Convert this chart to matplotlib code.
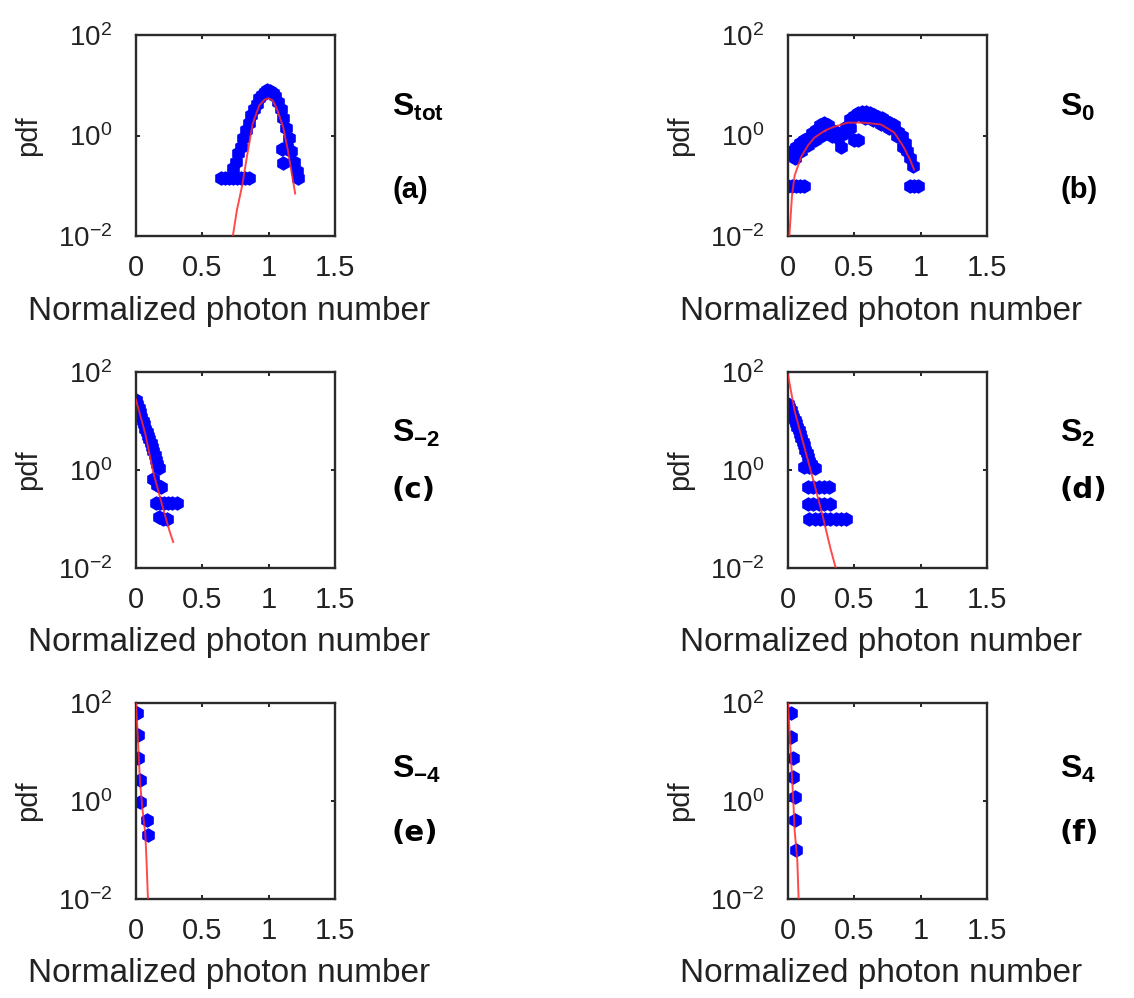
import matplotlib
matplotlib.use('Agg')
import matplotlib.pyplot as plt

plt.rcParams['font.family'] = ['Liberation Sans', 'DejaVu Sans']
plt.rcParams['mathtext.fontset'] = 'custom'
plt.rcParams['mathtext.rm'] = 'Liberation Sans'
plt.rcParams['mathtext.bf'] = 'Liberation Sans:bold'
plt.rcParams['axes.unicode_minus'] = False

## Data (pdf histograms in blue, fits in red)
# (a) S_tot
a_x = [0.64, 0.67, 0.70, 0.73, 0.76, 0.79, 0.82, 0.85,
       0.73, 0.75, 0.77, 0.79, 0.81, 0.83, 0.85, 0.87, 0.89, 0.91, 0.93, 0.95, 0.97, 0.99,
       1.01, 1.03, 1.05, 1.07, 1.09, 1.11, 1.13, 1.15, 1.17, 1.19, 1.21, 1.22,
       1.10, 1.11, 1.14]
a_y = [0.14, 0.14, 0.14, 0.14, 0.14, 0.14, 0.14, 0.14,
       0.23, 0.3, 0.45, 0.6, 0.9, 1.3, 1.8, 2.6, 3.4, 4.3, 5.5, 6.5, 7.3, 7.9,
       7.8, 7.0, 6.0, 4.6, 3.3, 2.2, 1.4, 0.9, 0.5, 0.3, 0.2, 0.14,
       0.55, 0.28, 0.6]
a_fit_x = [0.73, 0.76, 0.80, 0.84, 0.88, 0.93, 0.97, 1.00, 1.03, 1.06, 1.11, 1.145, 1.175, 1.20]
a_fit_y = [0.01, 0.032, 0.1, 0.44, 1.74, 4.0, 5.2, 5.5, 5.0, 3.5, 1.45, 0.5, 0.17, 0.07]

# (b) S_0
b_x = [0.00, 0.03, 0.06, 0.09, 0.12,
       0.01, 0.03, 0.06, 0.09, 0.12, 0.15, 0.18, 0.21, 0.24, 0.27, 0.30, 0.33, 0.36, 0.40,
       0.44, 0.47, 0.50, 0.53, 0.56, 0.59, 0.62, 0.65, 0.68, 0.71, 0.74, 0.77, 0.80,
       0.83, 0.86, 0.88, 0.90, 0.92, 0.94, 0.50, 0.53,
       0.92, 0.95, 0.98,
       0.05, 0.10, 0.15, 0.20, 0.25, 0.33, 0.38, 0.43, 0.47, 0.58, 0.64, 0.70, 0.76, 0.82, 0.87]
b_y = [0.1, 0.1, 0.1, 0.1, 0.1,
       0.45, 0.5, 0.6, 0.7, 0.8, 0.9, 1.1, 1.3, 1.6, 1.8, 1.6, 1.0, 1.2, 0.6,
       1.5, 2.1, 2.4, 2.8, 3.0, 3.0, 2.8, 2.6, 2.3, 2.2, 1.9, 1.8, 1.6,
       1.2, 1.0, 0.7, 0.5, 0.35, 0.25, 0.8, 0.8,
       0.1, 0.1, 0.1,
       0.35, 0.5, 0.65, 0.8, 1.0, 1.3, 0.9, 1.1, 1.4, 2.2, 2.0, 1.7, 1.4, 1.0, 0.6]
b_fit_x = [0.01, 0.02, 0.03, 0.05, 0.10, 0.15, 0.20, 0.28, 0.35, 0.45, 0.57, 0.70, 0.80, 0.87, 0.92, 0.95]
b_fit_y = [0.01, 0.025, 0.063, 0.16, 0.38, 0.63, 0.91, 1.26, 1.5, 1.8, 1.8, 1.66, 1.15, 0.6, 0.33, 0.21]

# (c) S_-2
c_x = [0.00, 0.01, 0.02, 0.03, 0.04, 0.05, 0.06, 0.07, 0.08, 0.09, 0.10, 0.11, 0.12, 0.13,
       0.14, 0.15, 0.16, 0.17, 0.13, 0.16, 0.19, 0.15, 0.18, 0.21, 0.24, 0.27, 0.31,
       0.17, 0.20, 0.23]
c_y = [27, 22, 18, 15, 12, 10, 8.5, 7, 6, 5, 4.2, 3.5, 2.9, 2.4,
       2.0, 1.6, 1.3, 1.1, 0.65, 0.5, 0.45, 0.21, 0.21, 0.21, 0.21, 0.21, 0.21,
       0.11, 0.1, 0.1]
c_fit_x = [0.00, 0.07, 0.13, 0.20, 0.25, 0.28]
c_fit_y = [27, 5.5, 0.9, 0.18, 0.06, 0.034]

# (d) S_2
d_x = [0.00, 0.01, 0.02, 0.03, 0.04, 0.05, 0.06, 0.07, 0.08, 0.09, 0.10, 0.11, 0.12, 0.13,
       0.14, 0.15, 0.16, 0.17, 0.12, 0.16, 0.20,
       0.15, 0.19, 0.23, 0.27, 0.31, 0.15, 0.19, 0.23, 0.27, 0.32,
       0.16, 0.20, 0.24, 0.28, 0.32, 0.36, 0.40, 0.44]
d_y = [22, 19, 17, 14, 12, 10.5, 9, 7.7, 6.5, 5.5, 4.6, 3.8, 3.2, 2.6,
       2.2, 1.8, 1.5, 1.3, 1.15, 1.15, 1.1,
       0.45, 0.45, 0.45, 0.45, 0.45, 0.2, 0.2, 0.2, 0.2, 0.2,
       0.1, 0.1, 0.1, 0.1, 0.1, 0.1, 0.1, 0.1]
d_fit_x = [0.00, 0.05, 0.10, 0.20, 0.26, 0.32, 0.36]
d_fit_y = [87, 16, 5, 0.5, 0.12, 0.025, 0.01]

# (e) S_-4
e_x = [0.01, 0.015, 0.015, 0.03, 0.03, 0.08, 0.09]
e_y = [63, 22, 7.6, 2.7, 0.95, 0.41, 0.2]
e_fit_x = [0.00, 0.01, 0.03, 0.05, 0.07, 0.08, 0.09]
e_fit_y = [100, 32, 2.5, 0.63, 0.22, 0.054, 0.01]

# (f) S_4
f_x = [0.02, 0.02, 0.04, 0.04, 0.05, 0.05, 0.06]
f_y = [63, 20, 7.6, 3.1, 1.2, 0.41, 0.1]
f_fit_x = [0.00, 0.02, 0.04, 0.05, 0.07, 0.08]
f_fit_y = [100, 10, 1.0, 0.25, 0.063, 0.01]

panels = [
    (a_x, a_y, a_fit_x, a_fit_y, r'$\mathbf{S_{tot}}$', '(a)'),
    (b_x, b_y, b_fit_x, b_fit_y, r'$\mathbf{S_{0}}$', '(b)'),
    (c_x, c_y, c_fit_x, c_fit_y, r'$\mathbf{S_{-2}}$', '(c)'),
    (d_x, d_y, d_fit_x, d_fit_y, r'$\mathbf{S_{2}}$', '(d)'),
    (e_x, e_y, e_fit_x, e_fit_y, r'$\mathbf{S_{-4}}$', '(e)'),
    (f_x, f_y, f_fit_x, f_fit_y, r'$\mathbf{S_{4}}$', '(f)'),
]

W, H = 1134, 998
fig = plt.figure(figsize=(W / 100, H / 100), dpi=100)

# axes boxes in pixels: left, top, width, height
col_left = [136, 788]
row_top = [35, 372, 703]
row_h = [201, 196, 196]
# label positions in pixels (S baseline, panel letter centre)
s_base = [116, 442, 778]
p_mid = [190, 490, 833]
lab_x = [392, 1060]

for i, (x, y, fx, fy, s_lab, p_lab) in enumerate(panels):
    r, c = divmod(i, 2)
    l, t, h = col_left[c], row_top[r], row_h[r]
    ax = fig.add_axes([l / W, 1 - (t + h) / H, 199 / W, h / H])
    ax.plot(x, y, 'h', color='#0000ff', markersize=10.5, markeredgewidth=0, zorder=2)
    ax.plot(fx, fy, '-', color='#ff2a2a', linewidth=1.4, alpha=0.85, zorder=3)
    ax.set_yscale('log')
    ax.set_xlim(0, 1.5)
    ax.set_ylim(1e-2, 1e2)
    ax.set_xticks([0, 0.5, 1, 1.5])
    ax.set_xticklabels(['0', '0.5', '1', '1.5'])
    ax.set_yticks([1e-2, 1e0, 1e2])
    ax.minorticks_off()
    ax.tick_params(direction='in', length=3, width=1.2, labelsize=21,
                   top=True, right=True, pad=13, labelcolor='#222222')
    ax.tick_params(axis='y', pad=17, labelsize=20)
    for sp in ax.spines.values():
        sp.set_linewidth(1.7)
        sp.set_color('#2a2a2a')
    ax.set_xlabel('Normalized photon number', fontsize=24, color='#222222')
    ax.xaxis.set_label_coords(0.47, -0.30)
    ax.set_ylabel('pdf', fontsize=21, color='#222222')
    ax.yaxis.set_label_coords(-0.47, 0.5)

    fig.text(lab_x[c] / W, 1 - s_base[r] / H, s_lab, fontsize=23, va='baseline', ha='left')
    if r == 0:
        fig.text(lab_x[c] / W, 1 - p_mid[r] / H, p_lab, fontsize=21, fontweight='bold',
                 va='center', ha='left')
    else:
        fig.text(lab_x[c] / W, 1 - p_mid[r] / H, p_lab, fontsize=21, fontweight='bold',
                 family='DejaVu Sans', va='center', ha='left')

plt.savefig('out.png', dpi=100)
plt.close()
